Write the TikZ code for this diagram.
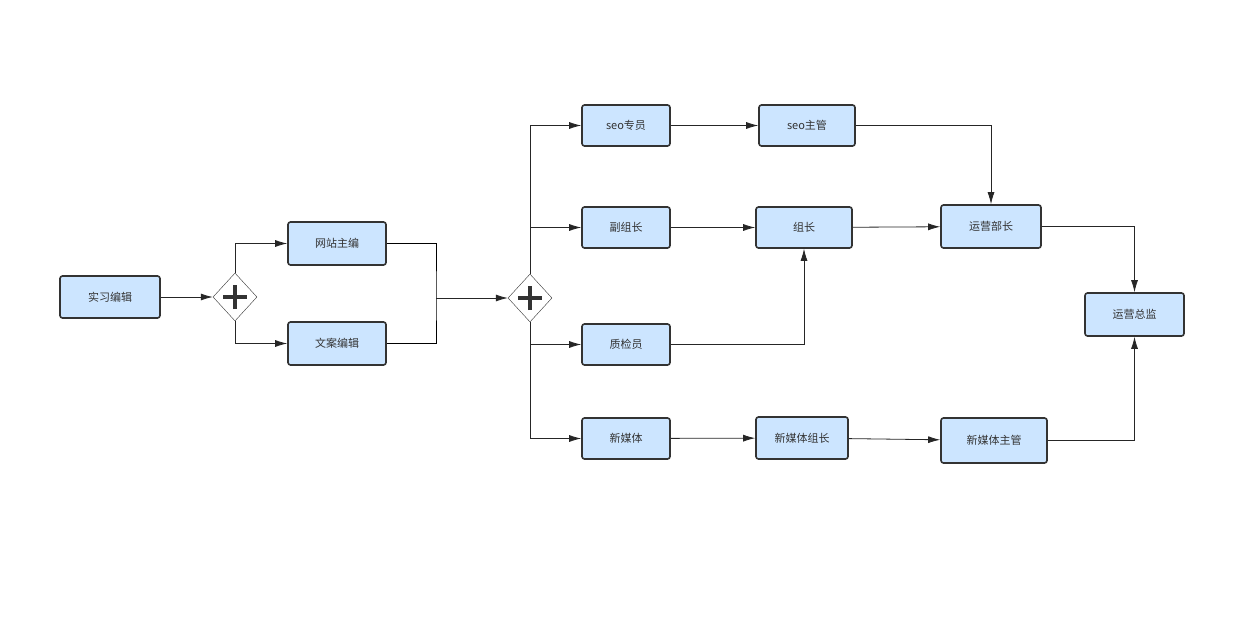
\documentclass[tikz,border=0pt]{standalone}
\usepackage{fontspec}
\setmainfont{Noto Sans CJK SC}
\usetikzlibrary{shapes.geometric,arrows.meta,positioning}
\definecolor{boxfill}{HTML}{CCE5FF}
\definecolor{boxline}{HTML}{333333}
\begin{document}
\begin{tikzpicture}[x=1pt,y=-1pt,
    task/.style={draw=boxline, line width=1.6pt, fill=boxfill, rounded corners=2.5pt,
      inner sep=0pt, font=\fontsize{11}{13}\selectfont, text=boxline},
    gate/.style={draw=boxline, diamond, minimum width=44pt, minimum height=48pt, inner sep=0pt},
    flow/.style={line width=0.8pt, draw=black!85, -{Latex[length=12pt,width=7pt]}}]

    \useasboundingbox (0,0) rectangle (1252,628);

    % gateways
    \node[gate] (G1) at (235,297) {};
    \node[gate] (G2) at (530,298) {};
    \foreach \g in {G1,G2}
        \draw[line width=3.2pt, draw=boxline] ([xshift=-12pt]\g.center) -- ([xshift=12pt]\g.center)
            ([yshift=-12pt]\g.center) -- ([yshift=12pt]\g.center);

    % tasks
    \node[task, minimum width=100pt, minimum height=42pt] (intern) at (110,297) {实习编辑};
    \node[task, minimum width=98pt, minimum height=43pt] (webed) at (337,243.5) {网站主编};
    \node[task, minimum width=98pt, minimum height=43pt] (copy) at (337,343.5) {文案编辑};
    \node[task, minimum width=88pt, minimum height=41pt] (seo) at (626,125.5) {seo专员};
    \node[task, minimum width=96pt, minimum height=41pt] (seom) at (807,125.5) {seo主管};
    \node[task, minimum width=88pt, minimum height=41pt] (vice) at (626,227.5) {副组长};
    \node[task, minimum width=96pt, minimum height=41pt] (lead) at (804,227.5) {组长};
    \node[task, minimum width=100pt, minimum height=43pt] (opsm) at (991,226.5) {运营部长};
    \node[task, minimum width=88pt, minimum height=41pt] (qa) at (626,344.5) {质检员};
    \node[task, minimum width=88pt, minimum height=41pt] (media) at (626,438.5) {新媒体};
    \node[task, minimum width=92pt, minimum height=42pt] (medial) at (802,438) {新媒体组长};
    \node[task, minimum width=106pt, minimum height=45pt] (mediam) at (994,440.5) {新媒体主管};
    \node[task, minimum width=99pt, minimum height=43pt] (opsd) at (1134.5,314.5) {运营总监};

    \coordinate (join) at (436,298);

    % connectors
    \draw[flow] (intern) -- (G1);
    \draw[flow] (G1.north) |- (webed);
    \draw[flow] (G1.south) |- (copy);
    \draw[line width=0.8pt] (webed.east) -| (join) |- (copy.east);
    \draw[flow] (join) -- (G2);
    \draw[flow] (G2.north) |- (seo);
    \draw[flow] (G2.north) |- (vice);
    \draw[flow] (G2.south) |- (qa);
    \draw[flow] (G2.south) |- (media);
    \draw[flow] (seo) -- (seom);
    \draw[flow] (vice) -- (lead);
    \draw[flow] (qa) -| (lead);
    \draw[flow] (seom) -| (opsm);
    \draw[flow] (lead) -- (opsm);
    \draw[flow] (opsm) -| (opsd);
    \draw[flow] (media) -- (medial);
    \draw[flow] (medial) -- (mediam);
    \draw[flow] (mediam) -| (opsd);
\end{tikzpicture}
\end{document}
